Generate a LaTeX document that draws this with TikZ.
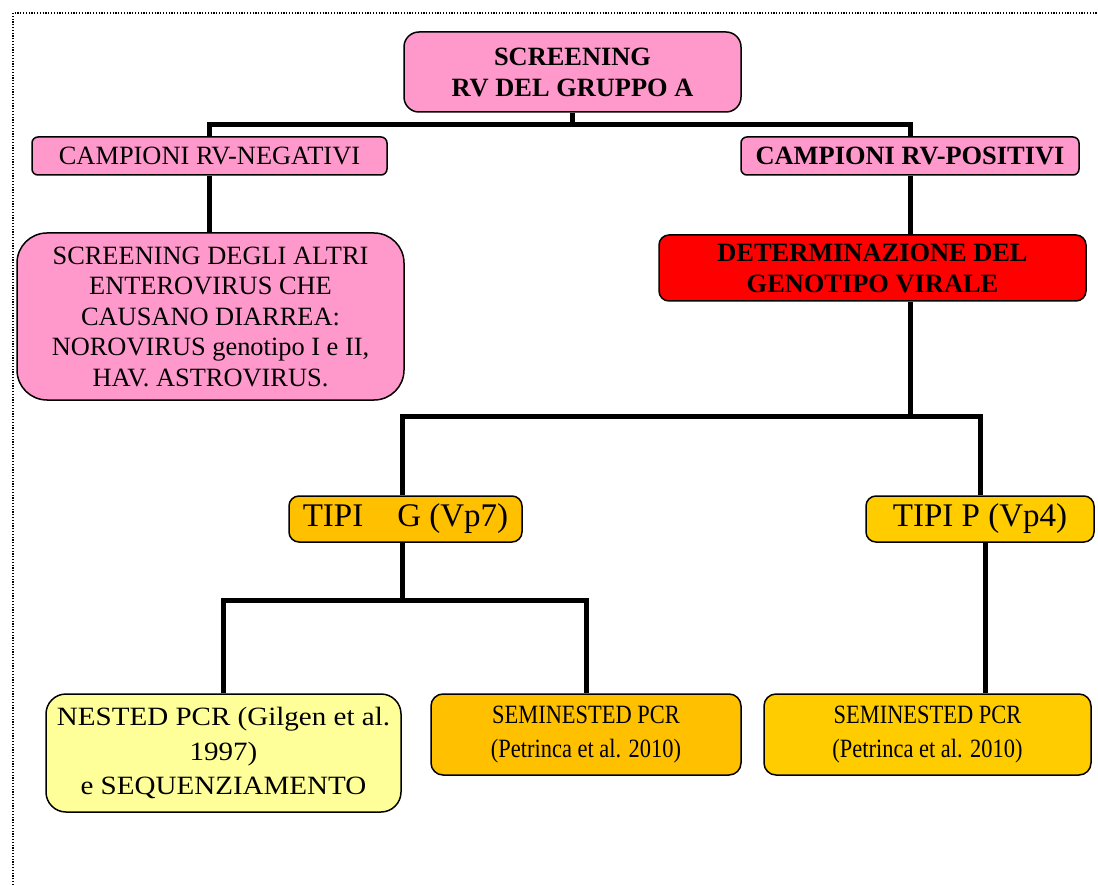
\documentclass[tikz,border=0pt]{standalone}
\usepackage{fontspec}
\usepackage{graphicx}
\setmainfont{Liberation Serif}
\newcommand{\narrowtxt}[1]{\scalebox{0.85}[1]{#1}}
\newcommand{\widetxt}[1]{\scalebox{1.1}[1]{#1}}
\definecolor{rvpink}{HTML}{FF99CC}
\definecolor{rvred}{HTML}{FF0000}
\definecolor{rvgold}{HTML}{FFC000}
\definecolor{rvyellow}{HTML}{FFCC00}
\definecolor{rvlight}{HTML}{FFFF99}
\begin{document}
\begin{tikzpicture}[x=1pt,y=-1pt,
  box/.style={draw=black, line width=1.5pt, align=center, inner sep=0pt, text=black,
    font=\fontsize{26.4}{30.5}\selectfont},
  link/.style={line width=5pt}]
\useasboundingbox (0,0) rectangle (1098,885);
\draw[line width=1.2pt, dash pattern=on 1.2pt off 1.6pt] (13,885) -- (13,13) -- (1098,13);

\node[box, fill=rvpink, rounded corners=15pt, minimum width=337pt, minimum height=80pt,
  font=\fontsize{26.4}{31}\selectfont\bfseries] (top) at (572.5,72) {SCREENING\\RV DEL GRUPPO A};
\node[box, fill=rvpink, rounded corners=6pt, minimum width=355pt, minimum height=38pt] (neg) at (209.5,156) {CAMPIONI RV-NEGATIVI};
\node[box, fill=rvpink, rounded corners=6pt, minimum width=338pt, minimum height=38pt,
  font=\fontsize{26.4}{30.5}\selectfont\bfseries] (pos) at (910,156) {CAMPIONI RV-POSITIVI};
\node[box, fill=rvpink, rounded corners=30pt, minimum width=387pt, minimum height=167pt] (other) at (210.5,316.5)
  {SCREENING DEGLI ALTRI\\ENTEROVIRUS CHE\\CAUSANO DIARREA:\\NOROVIRUS genotipo I e II,\\HAV. ASTROVIRUS.};
\node[box, fill=rvred, rounded corners=10pt, minimum width=427pt, minimum height=66pt,
  font=\fontsize{26.4}{31}\selectfont\bfseries] (det) at (872.5,268) {DETERMINAZIONE DEL\\GENOTIPO VIRALE};
\node[box, fill=rvgold, rounded corners=10pt, minimum width=233pt, minimum height=46pt,
  font=\fontsize{33}{36}\selectfont] (tipig) at (405.5,519) {TIPI\hspace{34pt}G (Vp7)};
\node[box, fill=rvyellow, rounded corners=10pt, minimum width=228pt, minimum height=46pt,
  font=\fontsize{33}{36}\selectfont] (tipip) at (980,519) {TIPI P (Vp4)};
\node[box, fill=rvlight, rounded corners=20pt, minimum width=355pt, minimum height=118pt,
  font=\fontsize{26.4}{34.5}\selectfont] (nested) at (223.5,753)
  {\widetxt{NESTED PCR (Gilgen et al.}\\\widetxt{1997)}\\\widetxt{e SEQUENZIAMENTO}};
\node[box, fill=rvgold, rounded corners=12pt, minimum width=310pt, minimum height=81pt,
  font=\fontsize{26.4}{34.5}\selectfont] (semiL) at (586,734.5)
  {\narrowtxt{SEMINESTED PCR}\\\narrowtxt{(Petrinca et al. 2010)}};
\node[box, fill=rvyellow, rounded corners=12pt, minimum width=327pt, minimum height=81pt,
  font=\fontsize{26.4}{34.5}\selectfont] (semiR) at (927.5,734.5)
  {\narrowtxt{SEMINESTED PCR}\\\narrowtxt{(Petrinca et al. 2010)}};

\coordinate (bar1) at (573,125);
\coordinate (bar2) at (910,416);
\coordinate (bar3) at (402,600);

\draw[link] (top.south) -- (top.south |- bar1);
\draw[link] (neg.north) -- (neg.north |- bar1) -- (pos.north |- bar1) -- (pos.north);
\draw[link] (neg.south) -- (neg.south |- other.north);
\draw[link] (pos.south) -- (pos.south |- det.north);
\draw[link] (pos.south |- det.south) -- (bar2);
\draw[link] ([xshift=-3.5pt]tipig.north) -- ([xshift=-3.5pt]tipig.north |- bar2) -- (tipip.north |- bar2) -- (tipip.north);
\draw[link] ([xshift=-3.5pt]tipig.south) -- (bar3);
\draw[link] (nested.north) -- (nested.north |- bar3) -- (semiL.north |- bar3) -- (semiL.north);
\draw[link] ([xshift=5pt]tipip.south) -- ([xshift=5pt]tipip.south |- semiR.north);
\end{tikzpicture}
\end{document}
